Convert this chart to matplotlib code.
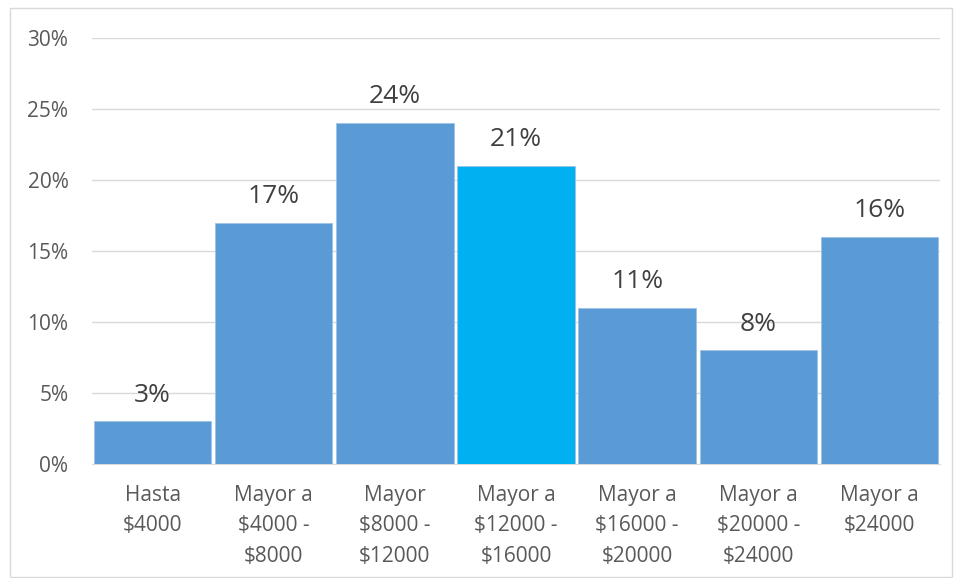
import matplotlib
matplotlib.use("Agg")
import matplotlib.pyplot as plt
from matplotlib.patches import Rectangle

categories = ["Hasta\n$4000", "Mayor a\n$4000 -\n$8000", "Mayor\n$8000 -\n$12000",
              "Mayor a\n$12000 -\n$16000", "Mayor a\n$16000 -\n$20000",
              "Mayor a\n$20000 -\n$24000", "Mayor a\n$24000"]
values = [3, 17, 24, 21, 11, 8, 16]
colors = ["#5B9BD5", "#5B9BD5", "#5B9BD5", "#00B0F0", "#5B9BD5", "#5B9BD5", "#5B9BD5"]
yticks = [0, 5, 10, 15, 20, 25, 30]

plt.rcParams['font.family'] = ['Open Sans', 'DejaVu Sans']
fig = plt.figure(figsize=(9.57, 5.78), dpi=100)
fig.patches.append(Rectangle((10/957, 0.002), 942/957, 1 - 8/578 - 0.002, transform=fig.transFigure,
                             fill=False, edgecolor="#D9D9D9", linewidth=1))
ax = fig.add_axes([92/957, 1 - 464/578, 848/957, (464 - 38)/578])
x = list(range(len(values)))
ax.bar(x, values, width=0.97, color=colors, edgecolor="#9DC3E6", linewidth=0.6, zorder=3)
ax.set_xlim(-0.5, len(values) - 0.5)
ax.set_ylim(0, 30)
ax.set_yticks(yticks)
ax.set_yticklabels([f"{v}%" for v in yticks], fontsize=15, color="#595959")
ax.set_xticks(x)
ax.set_xticklabels(categories, fontsize=15, color="#595959", linespacing=1.6)
ax.tick_params(axis='both', length=0)
ax.tick_params(axis='y', pad=17)
ax.tick_params(axis='x', pad=15)
ax.grid(axis='y', color="#D9D9D9", linewidth=1, zorder=0)
for s in ["top", "right", "left"]:
    ax.spines[s].set_visible(False)
ax.spines["bottom"].set_color("#D9D9D9")
for xi, v in zip(x, values):
    ax.annotate(f"{v}%", (xi, v), xytext=(0, 19), textcoords="offset points",
                ha="center", va="center", fontsize=19, color="#404040")
fig.savefig("out.png", dpi=100)
